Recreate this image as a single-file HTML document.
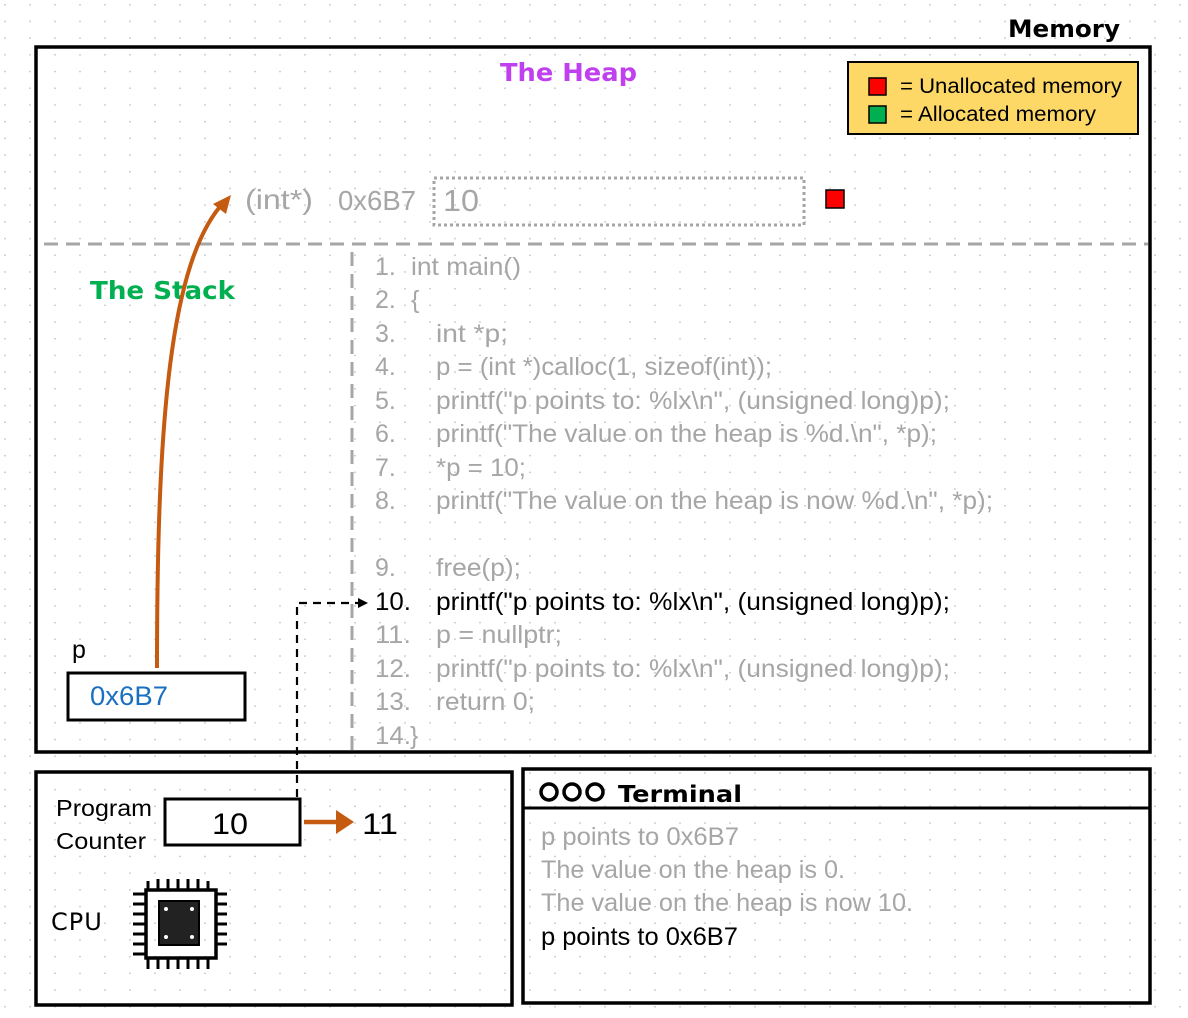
<!DOCTYPE html>
<html><head><meta charset="utf-8"><style>
html,body{margin:0;padding:0;background:#fff;}
svg{display:block;}
.c{font-family:"Liberation Sans",sans-serif;font-size:25px;fill:#a6a6a6;}
.k{fill:#000;}
.h{font-family:"DejaVu Sans",sans-serif;}
</style></head><body>
<svg width="1188" height="1018" viewBox="0 0 1188 1018" xmlns="http://www.w3.org/2000/svg">
<defs>
<pattern id="dots" x="4" y="4" width="25" height="16.7" patternUnits="userSpaceOnUse">
<rect x="0" y="0" width="2" height="1.5" fill="#d0d0d0"/>
</pattern>
<marker id="ah" markerWidth="10" markerHeight="10" refX="8" refY="5" orient="auto" markerUnits="userSpaceOnUse">
<path d="M0,0 L10,5 L0,10 z" fill="#000"/>
</marker>
</defs>
<rect width="1188" height="1018" fill="url(#dots)"/>

<text x="1008" y="37" class="h" font-size="24" font-weight="bold" fill="#000" textLength="112" lengthAdjust="spacingAndGlyphs">Memory</text>
<rect x="36" y="47" width="1114" height="705" fill="none" stroke="#000" stroke-width="3.5"/>

<text x="500" y="81" class="h" font-size="25" font-weight="bold" fill="#c040f0" textLength="137" lengthAdjust="spacingAndGlyphs">The Heap</text>

<rect x="848" y="62" width="290" height="72" fill="#fdd866" stroke="#000" stroke-width="2"/>
<rect x="869" y="78" width="17" height="17" fill="#ff0000" stroke="#000" stroke-width="1.5"/>
<rect x="869" y="106" width="17" height="17" fill="#00b050" stroke="#000" stroke-width="1.5"/>
<text x="900" y="93" font-family="Liberation Sans,sans-serif" font-size="21" textLength="222" lengthAdjust="spacingAndGlyphs">= Unallocated memory</text>
<text x="900" y="121" font-family="Liberation Sans,sans-serif" font-size="21" textLength="196" lengthAdjust="spacingAndGlyphs">= Allocated memory</text>

<text x="245" y="209" class="c" style="font-size:28px" textLength="68" lengthAdjust="spacingAndGlyphs">(int*)</text>
<text x="338" y="210" class="c" style="font-size:28px" textLength="78" lengthAdjust="spacingAndGlyphs">0x6B7</text>
<rect x="434" y="178" width="370" height="47" fill="none" stroke="#a6a6a6" stroke-width="3" stroke-dasharray="3,3"/>
<text x="443" y="211" class="c" style="font-size:31px" textLength="36" lengthAdjust="spacingAndGlyphs">10</text>
<rect x="826" y="190" width="18" height="18" fill="#ff0000" stroke="#000" stroke-width="1.5"/>

<line x1="44" y1="244" x2="1148" y2="244" stroke="#a6a6a6" stroke-width="3" stroke-dasharray="14,8"/>
<line x1="352" y1="252" x2="352" y2="750" stroke="#a6a6a6" stroke-width="3" stroke-dasharray="14,8"/>

<text x="90" y="299" class="h" font-size="25" font-weight="bold" fill="#00b050" textLength="145" lengthAdjust="spacingAndGlyphs">The Stack</text>

<path d="M157,668 C157,420 170,260 224,202" fill="none" stroke="#c55a11" stroke-width="4"/>
<path d="M231,195 L213,204 L226,214 z" fill="#c55a11"/>

<g class="c">
<text x="375" y="275">1.</text><text x="411" y="275" textLength="110" lengthAdjust="spacingAndGlyphs">int main()</text>
<text x="375" y="308">2.</text><text x="411" y="308">{</text>
<text x="375" y="342">3.</text><text x="436" y="342" textLength="72" lengthAdjust="spacingAndGlyphs">int *p;</text>
<text x="375" y="375">4.</text><text x="436" y="375" textLength="336" lengthAdjust="spacingAndGlyphs">p = (int *)calloc(1, sizeof(int));</text>
<text x="375" y="409">5.</text><text x="436" y="409" textLength="514" lengthAdjust="spacingAndGlyphs">printf("p points to: %lx\n", (unsigned long)p);</text>
<text x="375" y="442">6.</text><text x="436" y="442" textLength="501" lengthAdjust="spacingAndGlyphs">printf("The value on the heap is %d.\n", *p);</text>
<text x="375" y="476">7.</text><text x="436" y="476" textLength="90" lengthAdjust="spacingAndGlyphs">*p = 10;</text>
<text x="375" y="509">8.</text><text x="436" y="509" textLength="557" lengthAdjust="spacingAndGlyphs">printf("The value on the heap is now %d.\n", *p);</text>
<text x="375" y="576">9.</text><text x="436" y="576" textLength="85" lengthAdjust="spacingAndGlyphs">free(p);</text>
<text x="375" y="610" class="k" textLength="36" lengthAdjust="spacingAndGlyphs">10.</text><text x="436" y="610" class="k" textLength="514" lengthAdjust="spacingAndGlyphs">printf("p points to: %lx\n", (unsigned long)p);</text>
<text x="375" y="643" textLength="36" lengthAdjust="spacingAndGlyphs">11.</text><text x="436" y="643" textLength="126" lengthAdjust="spacingAndGlyphs">p = nullptr;</text>
<text x="375" y="677" textLength="36" lengthAdjust="spacingAndGlyphs">12.</text><text x="436" y="677" textLength="514" lengthAdjust="spacingAndGlyphs">printf("p points to: %lx\n", (unsigned long)p);</text>
<text x="375" y="710" textLength="36" lengthAdjust="spacingAndGlyphs">13.</text><text x="436" y="710" textLength="99" lengthAdjust="spacingAndGlyphs">return 0;</text>
<text x="375" y="744" textLength="36" lengthAdjust="spacingAndGlyphs">14.</text><text x="410" y="744">}</text>
</g>

<text x="72" y="658" font-family="Liberation Sans,sans-serif" font-size="25">p</text>
<rect x="68" y="673" width="177" height="47" fill="#fff" stroke="#000" stroke-width="3"/>
<text x="90" y="705" font-family="Liberation Sans,sans-serif" font-size="27" fill="#1a6fc0" textLength="78" lengthAdjust="spacingAndGlyphs">0x6B7</text>

<path d="M297,797 L297,603 L366,603" fill="none" stroke="#000" stroke-width="2.2" stroke-dasharray="8,6" marker-end="url(#ah)"/>

<rect x="36" y="772" width="476" height="233" fill="none" stroke="#000" stroke-width="3.5"/>
<text x="56" y="816" font-family="Liberation Sans,sans-serif" font-size="23" textLength="96" lengthAdjust="spacingAndGlyphs">Program</text>
<text x="56" y="849" font-family="Liberation Sans,sans-serif" font-size="23" textLength="90" lengthAdjust="spacingAndGlyphs">Counter</text>
<rect x="165" y="799" width="135" height="46" fill="#fff" stroke="#000" stroke-width="3"/>
<text x="212" y="834" font-family="Liberation Sans,sans-serif" font-size="30" textLength="36" lengthAdjust="spacingAndGlyphs">10</text>
<line x1="304" y1="822" x2="340" y2="822" stroke="#c55a11" stroke-width="4.5"/>
<path d="M354,822 L336,810 L336,834 z" fill="#c55a11"/>
<text x="362" y="834" font-family="Liberation Sans,sans-serif" font-size="30" textLength="36" lengthAdjust="spacingAndGlyphs">11</text>
<text x="51" y="930" class="h" font-size="24" letter-spacing="1">CPU</text>
<g stroke="#000" stroke-width="3" fill="none">
<rect x="146" y="890" width="70" height="68" stroke-width="3.5"/>
<rect x="159" y="901" width="40" height="44" fill="#222" stroke-width="2"/>
<line x1="148" y1="881" x2="148" y2="890"/><line x1="158" y1="879" x2="158" y2="890"/><line x1="168" y1="879" x2="168" y2="890"/><line x1="178" y1="879" x2="178" y2="890"/><line x1="188" y1="879" x2="188" y2="890"/><line x1="198" y1="879" x2="198" y2="890"/><line x1="208" y1="881" x2="208" y2="890"/>
<line x1="148" y1="958" x2="148" y2="969"/><line x1="158" y1="958" x2="158" y2="969"/><line x1="168" y1="958" x2="168" y2="969"/><line x1="178" y1="958" x2="178" y2="969"/><line x1="188" y1="958" x2="188" y2="969"/><line x1="198" y1="958" x2="198" y2="969"/><line x1="208" y1="958" x2="208" y2="969"/>
<line x1="133" y1="894" x2="146" y2="894"/><line x1="133" y1="904" x2="146" y2="904"/><line x1="133" y1="914" x2="146" y2="914"/><line x1="133" y1="924" x2="146" y2="924"/><line x1="133" y1="934" x2="146" y2="934"/><line x1="133" y1="944" x2="146" y2="944"/><line x1="133" y1="954" x2="146" y2="954"/>
<line x1="216" y1="894" x2="227" y2="894"/><line x1="216" y1="904" x2="227" y2="904"/><line x1="216" y1="914" x2="227" y2="914"/><line x1="216" y1="924" x2="227" y2="924"/><line x1="216" y1="934" x2="227" y2="934"/><line x1="216" y1="944" x2="227" y2="944"/>
</g>
<g fill="#fff"><circle cx="166" cy="909" r="2"/><circle cx="192" cy="909" r="2"/><circle cx="166" cy="937" r="2"/><circle cx="192" cy="937" r="2"/></g>

<rect x="523" y="769" width="627" height="234" fill="none" stroke="#000" stroke-width="3.5"/>
<line x1="523" y1="808" x2="1150" y2="808" stroke="#000" stroke-width="3"/>
<g fill="none" stroke="#000" stroke-width="3.5"><circle cx="549" cy="792" r="8"/><circle cx="572" cy="792" r="8"/><circle cx="595" cy="792" r="8"/></g>
<text x="618" y="802" class="h" font-size="23" font-weight="bold" textLength="124" lengthAdjust="spacingAndGlyphs">Terminal</text>
<g class="c">
<text x="541" y="845" textLength="198" lengthAdjust="spacingAndGlyphs">p points to 0x6B7</text>
<text x="541" y="878" textLength="304" lengthAdjust="spacingAndGlyphs">The value on the heap is 0.</text>
<text x="541" y="911" textLength="372" lengthAdjust="spacingAndGlyphs">The value on the heap is now 10.</text>
<text x="541" y="945" class="k" textLength="197" lengthAdjust="spacingAndGlyphs">p points to 0x6B7</text>
</g>
</svg>
</body></html>
